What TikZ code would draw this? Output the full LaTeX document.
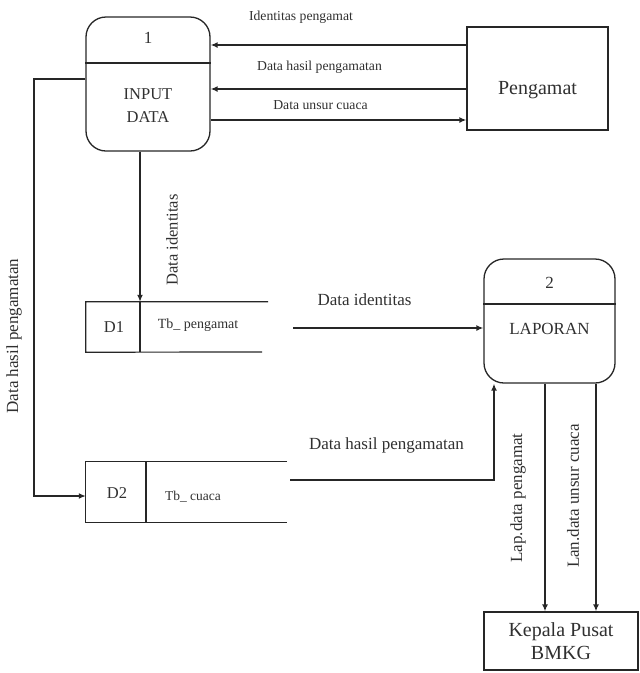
\documentclass[tikz,border=0pt]{standalone}
\usepackage{fontspec}
\setmainfont{Liberation Serif}
\usetikzlibrary{arrows.meta}
\definecolor{ink}{HTML}{262626}
\definecolor{txt}{HTML}{303030}
\tikzset{
  ln/.style={draw=ink, line width=1.4pt},
  arr/.style={ln, -{Latex[length=7pt,width=6pt]}},
  proc/.style={draw=ink, line width=1.3pt, rounded corners=20pt, minimum width=#1, inner sep=0pt},
  ent/.style={draw=ink, line width=1.3pt, inner sep=0pt},
  ghost/.style={inner sep=0pt},
  lbl/.style={text=txt, inner sep=0pt, font=\fontsize{13.7}{16}\selectfont},
  mlbl/.style={text=txt, inner sep=0pt, font=\fontsize{17}{20}\selectfont},
  big/.style={text=txt, inner sep=0pt, font=\fontsize{20}{23}\selectfont, align=center},
}
\begin{document}
\begin{tikzpicture}[x=1pt,y=-1pt]
\useasboundingbox (0,0) rectangle (640,673);
% process 1
\node[proc=124pt, minimum height=134pt] (p1) at (148,84) {};
\draw[ln, line width=1.2pt] (p1.west |- 0,63) coordinate (p1dl) -- (p1.east |- 0,63) coordinate (p1dr);
\node[mlbl] (p1n) at (148,38) {1};
\node[mlbl, align=center, font=\fontsize{16.5}{23}\selectfont] (p1t) at (148,106) {INPUT\\DATA};
% Pengamat
\node[ent, minimum width=141pt, minimum height=103pt] (pg) at (537.5,78.5) {};
\node[big] (pgt) at (537.5,90) {Pengamat};
% process 2
\node[proc=131pt, minimum height=124pt] (p2) at (549.5,321) {};
\draw[ln, line width=1.2pt] (p2.west |- 0,304) coordinate (p2dl) -- (p2.east |- 0,304) coordinate (p2dr);
\node[mlbl] (p2n) at (549.5,283) {2};
\node[mlbl] (p2t) at (549.5,329) {LAPORAN};
% Kepala
\node[ent, minimum width=154pt, minimum height=58pt] (kp) at (561,641) {};
\node[big] (kpt) at (561,641) {Kepala Pusat\\BMKG};
% D1
\node[ghost, minimum width=182pt, minimum height=50pt] (d1) at (177,327) {};
\draw[ln, line width=1.2pt] (d1.north east) -- (d1.north west) -- (d1.south west) -- (262,352) coordinate (d1e);
\draw[ln, line width=1.2pt] (140,302) coordinate (d1a) -- (140,352) coordinate (d1b);
\node[mlbl, font=\fontsize{16.5}{20}\selectfont] (d1n) at (114,327) {D1};
\node[lbl, font=\fontsize{14}{16}\selectfont] (d1t) at (198,325) {Tb\_ pengamat};
% D2
\node[ghost, minimum width=201pt, minimum height=60pt] (d2) at (186.5,492) {};
\draw[ln, line width=1.2pt] (d2.north east) -- (d2.north west) -- (d2.south west) -- (d2.south east);
\draw[ln, line width=1.2pt] (146,462) coordinate (d2a) -- (146,522) coordinate (d2b);
\node[mlbl, font=\fontsize{16.5}{20}\selectfont] (d2n) at (117,493) {D2};
\node[lbl, font=\fontsize{13.5}{16}\selectfont] (d2t) at (193,497) {Tb\_ cuaca};
% Pengamat <-> process 1
\draw[arr] (pg.west |- 0,45) -- (p1.east |- 0,45);
\node[lbl] (l1) at (301,17) {Identitas pengamat};
\draw[arr] (pg.west |- 0,89) -- (p1.east |- 0,89);
\node[lbl] (l2) at (319.5,67) {Data hasil pengamatan};
\draw[arr] (p1.east |- 0,120) -- (pg.west |- 0,120);
\node[lbl] (l3) at (320.5,105) {Data unsur cuaca};
% process 1 -> D1
\draw[arr] (p1.south -| 140,0) -- (d1.north -| 140,0);
\node[mlbl, rotate=90, font=\fontsize{16.5}{20}\selectfont] (l4) at (172,240) {Data identitas};
% process 1 -> D2
\coordinate (c1) at (34,79);
\coordinate (c2) at (34,496);
\draw[arr] (p1.west |- c1) -- (c1) -- (c2) -- (d2.west |- c2);
\node[mlbl, rotate=90] (l5) at (14,336) {Data hasil pengamatan};
% D1 -> process 2
\coordinate (s1) at (293,328);
\draw[arr] (s1) -- (p2.west |- s1);
\node[mlbl] (l6) at (364.5,300) {Data identitas};
% D2 -> process 2
\coordinate (s2) at (290,480);
\coordinate (c3) at (494,480);
\draw[arr] (s2) -- (c3) -- (p2.south -| c3);
\node[mlbl] (l7) at (386.5,445) {Data hasil pengamatan};
% process 2 -> Kepala
\draw[arr] (p2.south -| 545,0) -- (kp.north -| 545,0);
\node[mlbl, rotate=90] (l8) at (518,498) {Lap.data pengamat};
\draw[arr] (p2.south -| 596,0) -- (kp.north -| 596,0);
\node[mlbl, rotate=90] (l9) at (573,496) {Lan.data unsur cuaca};
\end{tikzpicture}
\end{document}
